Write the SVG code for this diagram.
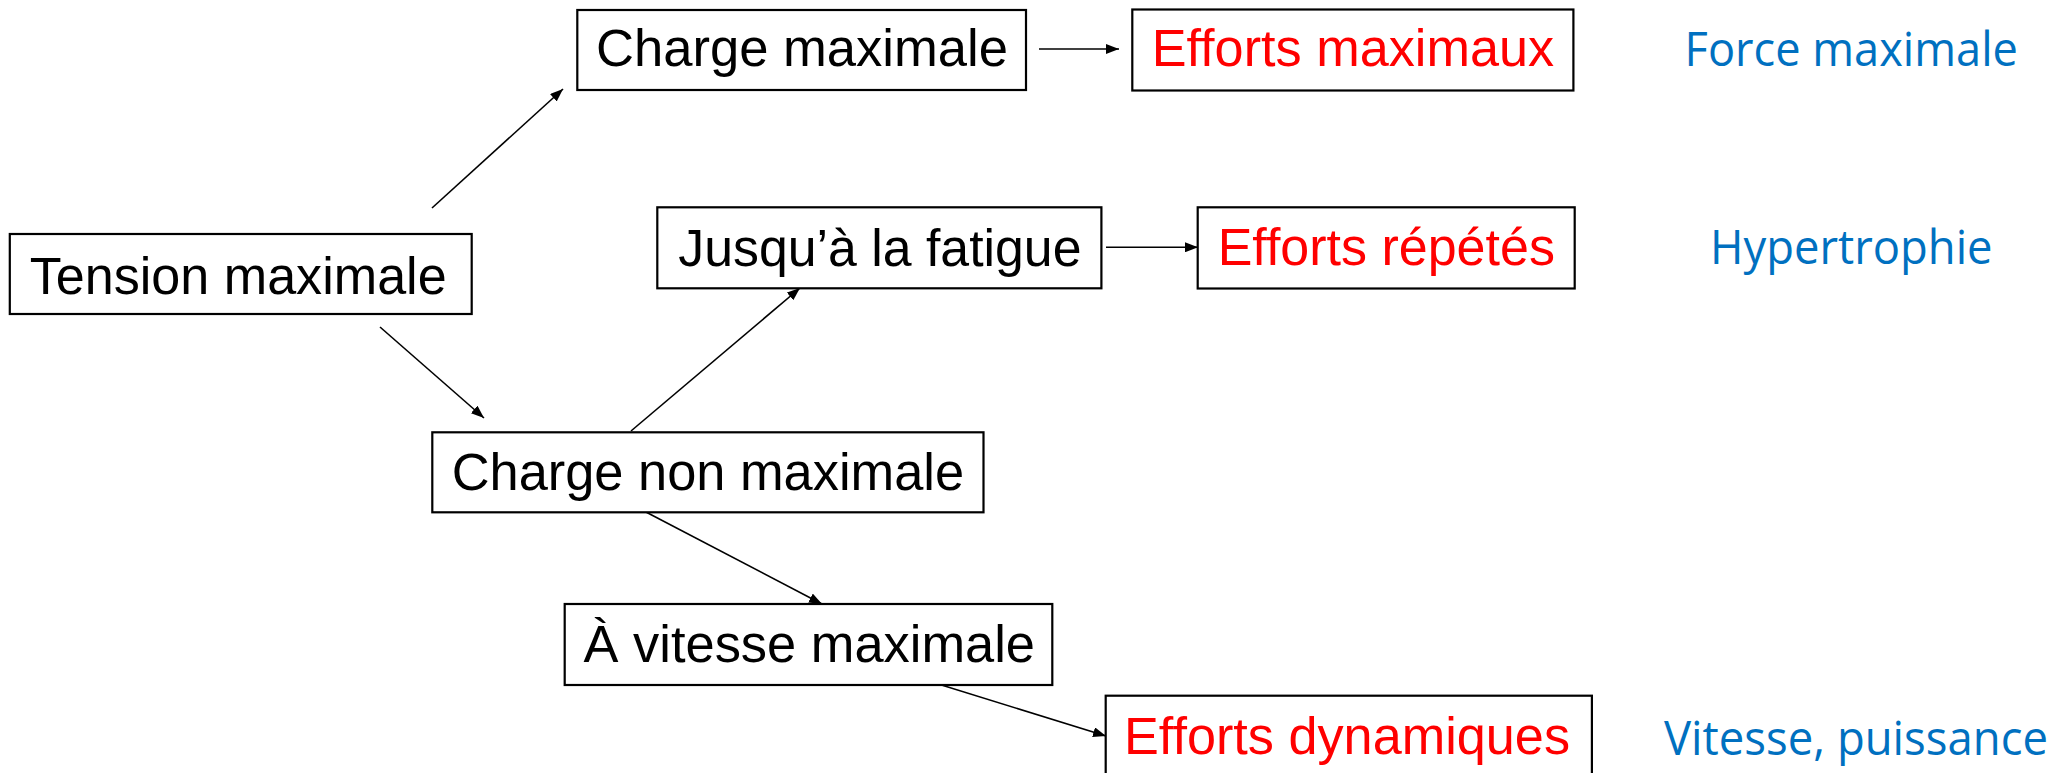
<svg xmlns="http://www.w3.org/2000/svg" width="2057" height="773" viewBox="0 0 2057 773">
<style>
.box{fill:#fff;stroke:#000;stroke-width:2.2}
.t{font-family:"Liberation Sans",Arial,sans-serif;font-size:51px;fill:#000;text-anchor:middle}
.r{fill:#ff0000}
.b{font-family:"Open Sans","Noto Sans",sans-serif;font-size:47px;fill:#0070c0}
.c{stroke:#000;stroke-width:1.6;fill:none;marker-end:url(#ah)}
</style>
<defs>
<marker id="ah" markerUnits="userSpaceOnUse" markerWidth="14" markerHeight="10" refX="13" refY="5" orient="auto">
<path d="M0,0 L13,5 L0,10 Z" fill="#000"/>
</marker>
</defs>
<rect width="2057" height="773" fill="#fff"/>
<g id="connectors">
<line class="c" x1="432" y1="208" x2="563" y2="89"/>
<line class="c" x1="1039" y1="49" x2="1119" y2="49"/>
<line class="c" x1="1106" y1="247.3" x2="1198" y2="247.3"/>
<line class="c" x1="380" y1="327" x2="484" y2="418"/>
<line class="c" x1="631" y1="431" x2="800" y2="288"/>
<line class="c" x1="644" y1="511" x2="822" y2="604"/>
<line class="c" x1="935" y1="683" x2="1106" y2="736"/>
</g>
<g id="tension-maximale">
<rect class="box" x="9.8" y="234" width="461.9" height="80"/>
<text class="t" x="238.2" y="294" textLength="417" lengthAdjust="spacingAndGlyphs">Tension maximale</text>
</g>
<g id="charge-maximale">
<rect class="box" x="577.3" y="10" width="448.7" height="80"/>
<text class="t" x="802" y="66" textLength="412" lengthAdjust="spacingAndGlyphs">Charge maximale</text>
</g>
<g id="efforts-maximaux">
<rect class="box" x="1132.3" y="9.5" width="441.1" height="81"/>
<text class="t r" x="1352.9" y="66" textLength="402.4" lengthAdjust="spacingAndGlyphs">Efforts maximaux</text>
</g>
<g id="force-maximale">
<text class="b" x="1684.6" y="65.5" textLength="333.4" lengthAdjust="spacingAndGlyphs">Force maximale</text>
</g>
<g id="jusqua-la-fatigue">
<rect class="box" x="657.3" y="207.3" width="444.1" height="81"/>
<text class="t" x="879.9" y="266" textLength="403.2" lengthAdjust="spacingAndGlyphs">Jusqu’à la fatigue</text>
</g>
<g id="efforts-repetes">
<rect class="box" x="1197.7" y="207.3" width="377" height="81.2"/>
<text class="t r" x="1386.3" y="264.5" textLength="337.2" lengthAdjust="spacingAndGlyphs">Efforts répétés</text>
</g>
<g id="hypertrophie">
<text class="b" x="1710" y="263.5" textLength="282.6" lengthAdjust="spacingAndGlyphs">Hypertrophie</text>
</g>
<g id="charge-non-maximale">
<rect class="box" x="432.3" y="432.3" width="551.2" height="80"/>
<text class="t" x="707.9" y="490" textLength="512.4" lengthAdjust="spacingAndGlyphs">Charge non maximale</text>
</g>
<g id="a-vitesse-maximale">
<rect class="box" x="564.7" y="604" width="487.6" height="81"/>
<text class="t" x="809.3" y="662" textLength="451.4" lengthAdjust="spacingAndGlyphs">À vitesse maximale</text>
</g>
<g id="efforts-dynamiques">
<rect class="box" x="1105.7" y="695.7" width="486.2" height="100"/>
<text class="t r" x="1347" y="754" textLength="446" lengthAdjust="spacingAndGlyphs">Efforts dynamiques</text>
</g>
<g id="vitesse-puissance">
<text class="b" x="1664" y="755" textLength="384" lengthAdjust="spacingAndGlyphs">Vitesse, puissance</text>
</g>
</svg>
